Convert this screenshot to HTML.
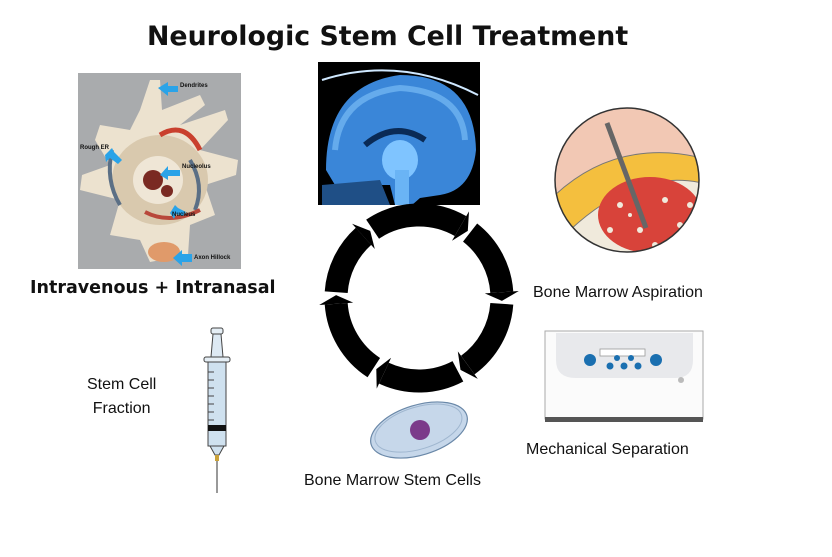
<!DOCTYPE html>
<html><head><meta charset="utf-8"><style>
html,body{margin:0;padding:0;background:#fff;}
body{width:832px;height:557px;position:relative;overflow:hidden;font-family:"Liberation Sans",sans-serif;}
.t{position:absolute;white-space:nowrap;color:#111;}
</style></head><body>
<svg width="832" height="557" style="position:absolute;left:0;top:0">
<!-- neuron photo -->
<rect x="78" y="73" width="163" height="196" fill="#a9abad"/>
<path d="M150 80 L160 80 L162 110 L200 95 L205 105 L180 125 L225 110 L228 120 L200 150 L238 160 L236 175 L205 185 L215 215 L190 225 L188 255 L150 262 L140 240 L110 235 L120 200 L80 190 L82 175 L110 165 L95 140 L100 125 L130 130 L140 110 Z" fill="#ece2cf"/>
<ellipse cx="160" cy="180" rx="48" ry="45" fill="#d9c9ae"/>
<ellipse cx="158" cy="180" rx="25" ry="24" fill="#efe6d6"/>
<circle cx="153" cy="180" r="10" fill="#7a2a22"/>
<circle cx="167" cy="191" r="6" fill="#7a2a22"/>
<path d="M112 150 Q105 180 120 205" stroke="#5b6f85" stroke-width="4" fill="none"/>
<path d="M190 160 Q205 185 195 210" stroke="#5b6f85" stroke-width="4" fill="none"/>
<path d="M145 212 Q170 225 200 210" stroke="#b8473a" stroke-width="4" fill="none"/>
<path d="M160 135 Q185 120 200 150" stroke="#c9402e" stroke-width="5" fill="none"/>
<ellipse cx="164" cy="252" rx="16" ry="10" fill="#e09a6a"/>
<g fill="#2aa3e8">
<polygon points="158,88 168,82 168,86 178,86 178,92 168,92 168,96"/>
<polygon points="105,155 112,148 114,152 122,160 118,164 110,158 106,162"/>
<polygon points="160,175 168,166 168,170 180,170 180,176 168,176 168,180"/>
<polygon points="170,213 175,205 178,208 186,212 183,216 176,214 174,219"/>
<polygon points="173,258 182,250 182,254 192,254 192,262 182,262 182,266"/>
</g>
<g font-family="Liberation Sans" font-weight="bold" font-size="6" fill="#111">
<text x="180" y="87">Dendrites</text><text x="80" y="149">Rough ER</text>
<text x="182" y="168">Nucleolus</text><text x="172" y="216">Nucleus</text><text x="194" y="259">Axon Hillock</text>
</g>
<!-- brain -->
<rect x="318" y="62" width="162" height="143" fill="#000"/>
<path d="M326 170 Q326 85 400 75 Q474 75 476 150 Q472 190 440 195 L420 198 L412 205 L395 205 L390 185 L335 185 Z" fill="#3a86d8"/>
<path d="M335 150 Q340 95 400 88 Q462 92 465 140" stroke="#8fd0ff" stroke-width="6" fill="none" opacity=".5"/>
<path d="M365 145 Q395 120 425 140" stroke="#0a2a55" stroke-width="6" fill="none"/>
<ellipse cx="400" cy="160" rx="18" ry="20" fill="#7fc4ff"/>
<rect x="395" y="170" width="14" height="35" fill="#6ab4f5"/>
<path d="M322 185 L380 180 L390 205 L322 205 Z" fill="#1f4f86"/>
<path d="M322 80 Q400 55 478 95" stroke="#cfe8ff" stroke-width="2" fill="none"/>
<!-- ring -->
<g fill="none" stroke="#000" stroke-width="23">
<path d="M372.6 229.2 A83 83 0 0 1 460.5 226.1"/>
<path d="M470.1 232.6 A83 83 0 0 1 501.8 292.2"/>
<path d="M501.8 303.8 A83 83 0 0 1 467.8 365.1"/>
<path d="M457.9 371.3 A83 83 0 0 1 383.9 373.2"/>
<path d="M373.8 367.6 A83 83 0 0 1 336.2 303.8"/>
<path d="M336.2 292.2 A83 83 0 0 1 363.5 236.3"/>
</g>
<g fill="#000">
<polygon points="452,240.8 469,211.4 467.8,230.9"/>
<polygon points="484.8,293.4 518.8,291 501.9,300.9"/>
<polygon points="457.8,351.4 477.8,378.9 460.5,369.9"/>
<polygon points="391.1,357.8 376.7,388.6 376.3,369.1"/>
<polygon points="353.2,302.6 319.2,305 336.1,295.1"/>
<polygon points="374.8,249 352.1,223.7 370.2,230.9"/>
</g>
<!-- aspiration -->
<defs><clipPath id="c"><circle cx="627" cy="180" r="72"/></clipPath></defs>
<g clip-path="url(#c)">
<rect x="550" y="105" width="160" height="150" fill="#f0eadc"/>
<path d="M550 105 L710 105 L710 165 Q640 140 560 210 L550 215 Z" fill="#f2c8b4"/>
<path d="M555 195 Q620 135 710 160 L710 185 Q640 165 570 230 Z" fill="#f4bf3e" stroke="#777" stroke-width="1"/>
<ellipse cx="650" cy="215" rx="52" ry="38" fill="#d8433a"/>
<g fill="#f0eadc">
<circle cx="620" cy="205" r="3"/><circle cx="640" cy="230" r="3"/><circle cx="665" cy="200" r="3"/><circle cx="680" cy="225" r="3"/><circle cx="610" cy="230" r="3"/><circle cx="655" cy="245" r="3"/><circle cx="630" cy="215" r="2"/><circle cx="690" cy="205" r="3"/>
</g>
</g>
<circle cx="627" cy="180" r="72" fill="none" stroke="#333" stroke-width="1.5"/>
<line x1="607" y1="123" x2="646" y2="228" stroke="#666" stroke-width="5"/>
<!-- centrifuge -->
<rect x="545" y="331" width="158" height="88" fill="#fbfbfb" stroke="#aaa"/>
<path d="M556 333 L693 333 L693 360 Q693 378 675 378 L576 378 Q556 378 556 360 Z" fill="#e8e9ec"/>
<rect x="600" y="349" width="45" height="7" fill="#fff" stroke="#999" stroke-width=".8"/>
<g fill="#1a6fb0"><circle cx="590" cy="360" r="6"/><circle cx="656" cy="360" r="6"/><circle cx="610" cy="366" r="3.5"/><circle cx="624" cy="366" r="3.5"/><circle cx="638" cy="366" r="3.5"/><circle cx="617" cy="358" r="3"/><circle cx="631" cy="358" r="3"/></g>
<circle cx="681" cy="380" r="3" fill="#bbb"/>
<rect x="545" y="417" width="158" height="5" fill="#555"/>
<!-- petri -->
<g transform="rotate(-17 419 430)">
<ellipse cx="419" cy="430" rx="50" ry="25" fill="#c6d7ea" stroke="#6a88a8" stroke-width="1.2"/>
<ellipse cx="419" cy="428" rx="45" ry="21" fill="none" stroke="#9fb6cf"/>
</g>
<circle cx="420" cy="430" r="10" fill="#7b3a8a"/>
<!-- syringe -->
<rect x="211" y="328" width="12" height="6" rx="2" fill="#e5eef5" stroke="#444"/>
<path d="M213 334 L211 357 L223 357 L221 334 Z" fill="#dde9f3" stroke="#444"/>
<rect x="204" y="357" width="26" height="5" rx="2" fill="#e5eef5" stroke="#444"/>
<rect x="208" y="362" width="18" height="84" fill="#cfe1ef" stroke="#444"/>
<g stroke="#444"><line x1="208" y1="372" x2="214" y2="372"/><line x1="208" y1="380" x2="214" y2="380"/><line x1="208" y1="388" x2="214" y2="388"/><line x1="208" y1="396" x2="214" y2="396"/><line x1="208" y1="404" x2="214" y2="404"/><line x1="208" y1="412" x2="214" y2="412"/><line x1="208" y1="420" x2="214" y2="420"/></g>
<rect x="208" y="425" width="18" height="6" fill="#111"/>
<path d="M210 446 L224 446 L219 455 L215 455 Z" fill="#cfe1ef" stroke="#444"/>
<rect x="215" y="455" width="4" height="6" fill="#c9a23a"/>
<line x1="217" y1="461" x2="217" y2="493" stroke="#777" stroke-width="1.5"/>
</svg>
<div class="t" style="left:147px;top:21px;font-size:26.8px;font-weight:bold;font-family:'DejaVu Sans',sans-serif;">Neurologic Stem Cell Treatment</div>
<div class="t" style="left:30px;top:278px;font-size:17.5px;font-weight:bold;font-family:'DejaVu Sans',sans-serif;">Intravenous + Intranasal</div>
<div class="t" style="left:533px;top:284px;font-size:16px;">Bone Marrow Aspiration</div>
<div class="t" style="left:87px;top:373px;font-size:16px;text-align:center;line-height:24px;">Stem Cell<br>Fraction</div>
<div class="t" style="left:526px;top:441px;font-size:16px;">Mechanical Separation</div>
<div class="t" style="left:304px;top:472px;font-size:16px;">Bone Marrow Stem Cells</div>
</body></html>
